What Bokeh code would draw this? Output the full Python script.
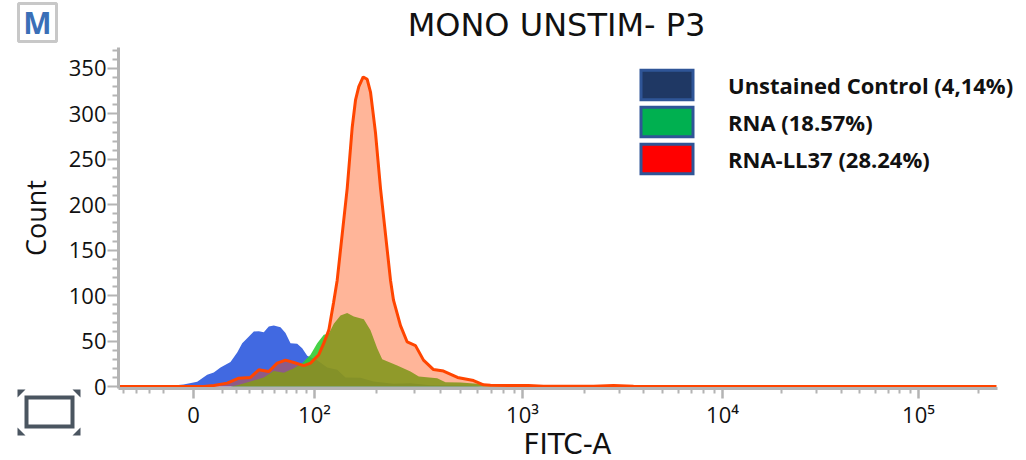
from bokeh.plotting import figure
from bokeh.embed import file_html
from bokeh.resources import INLINE
from bokeh.layouts import column
from bokeh.core.properties import value
from bokeh.models import LinearAxis, FixedTicker, Range1d, Legend, LegendItem

# x is in display channels of the biexponential FITC-A axis (0 = value 0)
x_major = [0, 121, 329, 529, 725]
x_major_labels = ["0", "10²", "10³", "10⁴", "10⁵"]
x_minor = [-70, -57.3, -44, -29.7, 29, 43, 56, 69, 81, 93, 103, 113,
           183, 221, 247, 267, 284, 297.5, 309.7, 321,
           390.6, 425.6, 450, 469, 485, 498.4, 510, 520.5,
           588, 623, 647.5, 666, 682, 695, 706, 717, 784.7]
y_major = [0, 50, 100, 150, 200, 250, 300, 350]
y_minor = [10, 20, 30, 40, 60, 70, 80, 90, 110, 120, 130, 140, 160, 170, 180, 190,
           210, 220, 230, 240, 260, 270, 280, 290, 310, 320, 330, 340, 360, 370]

unstained_x = [-75, -23, -10, 3.7, 13.7, 20.3, 27, 37, 43.7, 48.7, 53.7, 60.3, 65.3, 70.3, 75.3, 80.3,
               87, 92, 97, 103.7, 108.7, 113.7, 123.7, 133.7, 143.7, 152, 167, 180, 200, 217, 237, 277, 297]
unstained_y = [0, 0.7, 2.2, 5.1, 12.8, 15.4, 21, 27, 37.4, 47.7, 53, 60.6, 60.9, 59.7, 66, 67,
               65.3, 59, 47.7, 47, 42.2, 33.8, 29, 21, 18.4, 10, 9.5, 5.5, 3, 3.7, 1.5, 0.7, 0]
rna_x = [37, 43.7, 57, 70.3, 80.3, 90.3, 100.3, 108.7, 117, 123.7, 130.3, 135.3, 140.3, 147, 153.7,
         160.3, 170.3, 177, 183.7, 188.7, 203.7, 217, 225.3, 243.7, 252, 267, 283.7, 297, 320]
rna_y = [0, 1.5, 5.5, 10, 17, 15, 20, 25.7, 35, 47.7, 57, 58, 69, 78, 81,
         77, 74, 62, 42, 30, 23, 16.5, 11, 9, 4.8, 4.4, 3, 1, 0]
ll37_x = [-75, -23, 10.3, 20.3, 33.7, 45.3, 57, 65.3, 75.3, 83.7, 92, 100.3, 110.3, 117, 125.3, 130.3,
          135.3, 140, 143.7, 153.7, 158.7, 162, 165.3, 169.7, 173.7, 177, 179.7, 182, 187, 197, 200, 207,
          213.7, 222, 230, 240, 250, 264, 280, 290, 297, 315, 335, 350, 400, 420, 440, 803]
ll37_y = [0, 0, 0, 1, 3.7, 9.2, 10, 18.4, 16.5, 25.7, 29, 26.4, 23, 25.7, 35, 47.7,
          62, 92, 117, 218, 285, 315, 330, 340.6, 338, 324, 300, 279, 218, 117, 95, 67,
          49, 45, 29, 18.6, 17, 10, 6.6, 1.8, 1.5, 1, 1, 0.3, 0.3, 1, 0.2, 0]

legend_labels = ["Unstained Control (4,14%)", "RNA (18.57%)", "RNA-LL37 (28.24%)"]
legend_fills = ["#1f3864", "#00b050", "#ff0000"]

FONT = "Open Sans"
WIDE = "DejaVu Sans"
GREY = "#b4b4b4"
INK = "#111111"

p = figure(width=1026, height=460, output_backend="svg", toolbar_location=None,
           x_range=Range1d(-75, 804), y_range=Range1d(-2.2, 373),
           x_axis_type=None, y_axis_type=None,
           min_border_left=118, min_border_right=29, min_border_top=47, min_border_bottom=72,
           outline_line_color=None, frame_align=False)
p.grid.visible = False

p.varea(unstained_x, y1=[0] * len(unstained_x), y2=unstained_y, fill_color="#4169e1")
p.varea(rna_x, y1=[0] * len(rna_x), y2=rna_y, fill_color="#32cd32", fill_alpha=0.9)
p.varea(ll37_x, y1=[0] * len(ll37_x), y2=ll37_y, fill_color="#ff4500", fill_alpha=0.4)
p.line(ll37_x, ll37_y, line_color="#ff4500", line_width=3)

xax = LinearAxis(ticker=FixedTicker(ticks=x_major, minor_ticks=x_minor),
                 major_label_overrides=dict(zip(x_major, x_major_labels)),
                 axis_line_color=GREY, axis_line_width=3,
                 major_tick_line_color=GREY, major_tick_line_width=2.5,
                 minor_tick_line_color=GREY, minor_tick_line_width=2,
                 major_tick_in=0, major_tick_out=10, minor_tick_in=0, minor_tick_out=5,
                 major_label_standoff=0, major_label_text_font=FONT, major_label_text_font_size="22px",
                 major_label_text_color=INK, major_label_text_line_height=0.9)
p.add_layout(xax, "below")

yax = LinearAxis(ticker=FixedTicker(ticks=y_major, minor_ticks=y_minor),
                 axis_line_color=GREY, axis_line_width=3,
                 major_tick_line_color=GREY, major_tick_line_width=2,
                 minor_tick_line_color=GREY, minor_tick_line_width=2,
                 major_tick_in=0, major_tick_out=11, minor_tick_in=0, minor_tick_out=6,
                 major_label_standoff=1, major_label_text_font=FONT, major_label_text_font_size="22px",
                 major_label_text_color=INK,
                 axis_label="Count", axis_label_standoff=12, axis_label_text_font=FONT,
                 axis_label_text_font_size="27px", axis_label_text_font_style="normal",
                 axis_label_text_color=INK)
p.add_layout(yax, "left")

# Transparent overlay as large as the page: title, badge, gate icon, legend and x label lie outside
# the main plot's frame, where annotations would be clipped. Its units are page pixels, y downwards.
deco = figure(width=1026, height=460, output_backend="svg", toolbar_location=None,
              x_range=Range1d(0, 1026), y_range=Range1d(460, 0),
              x_axis_type=None, y_axis_type=None, min_border=0,
              outline_line_color=None, background_fill_color=None, border_fill_color=None,
              margin=(-460, 0, 0, 0), frame_align=False)
deco.grid.visible = False

deco.text(x=[556], y=[24], text=["MONO UNSTIM- P3"], text_font=value(WIDE), text_font_size="32px",
          text_color=INK, text_align="center", text_baseline="middle")
deco.quad(left=[18], right=[56], top=[3], bottom=[41], fill_color="white",
          line_color="#c8c8c8", line_width=3)
deco.text(x=[37], y=[22], text=["M"], text_font=value(FONT), text_font_size="30px",
          text_font_style="bold", text_color="#3a6fb7", text_align="center", text_baseline="middle")
deco.quad(left=[26], right=[72], top=[397], bottom=[426], fill_alpha=0,
          line_color="#4a5560", line_width=4, line_join="miter")
deco.patches(xs=[[17, 25, 17], [80, 72, 80], [17, 25, 17], [80, 72, 80]],
             ys=[[389, 389, 397], [389, 389, 397], [435, 435, 427], [435, 435, 427]],
             fill_color="#4a5560", line_color=None)
deco.text(x=[567], y=[444], text=["FITC-A"], text_font=value(WIDE), text_font_size="28px",
          text_color=INK, text_align="center", text_baseline="middle")

items = []
nan = float("nan")
for lab, col in zip(legend_labels, legend_fills):
    r = deco.quad(left=[nan], right=[nan], top=[nan], bottom=[nan], fill_color=col,
                  line_color="#2f5597", line_width=3, line_join="miter")
    items.append(LegendItem(label=lab, renderers=[r]))
leg = Legend(items=items, location=(634, 283), padding=0, margin=0, spacing=0,
             glyph_width=65, glyph_height=37, label_standoff=29, label_height=37,
             border_line_color=None, background_fill_alpha=0,
             label_text_font=FONT, label_text_font_size="22px", label_text_font_style="bold",
             label_text_color=INK)
deco.add_layout(leg, "center")

open("out.html", "w").write(file_html(column(p, deco), INLINE))
